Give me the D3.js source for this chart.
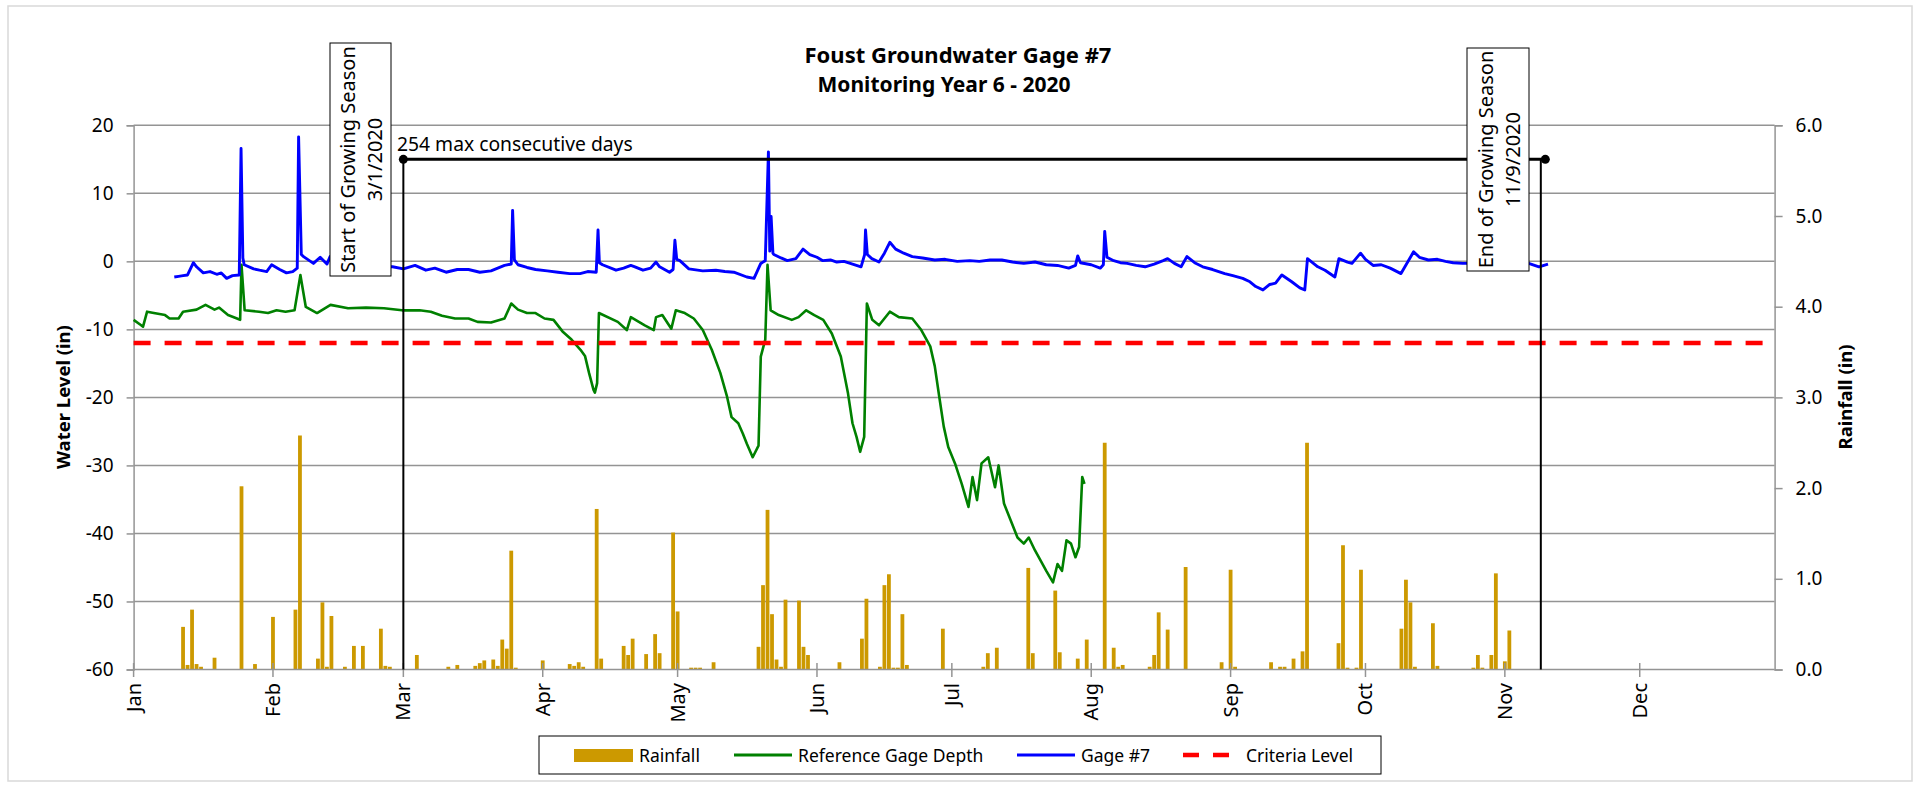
<!DOCTYPE html>
<html><head><meta charset="utf-8">
<script src="https://cdn.jsdelivr.net/npm/d3@7"></script>
<style>
html,body{margin:0;padding:0;background:#fff;}
svg{display:block;}
text{font-family:"Noto Sans",sans-serif;}
</style></head>
<body>
<svg id="chart" width="1917" height="785"></svg>
<script>
// ---------------- DATA (day index: days after 1 Jan 2020) ----------------
const months = ["Jan","Feb","Mar","Apr","May","Jun","Jul","Aug","Sep","Oct","Nov","Dec"];
const leftTicks = [20,10,0,-10,-20,-30,-40,-50,-60];
const rightTicks = [0,1,2,3,4,5,6];
const criteriaLevel = -12;
const seasonStartDay = 60;   // 3/1/2020
const seasonEndDay = 313;    // 11/9/2020
const consecutiveEndDay = 314;
const consecutiveLevel = 15;

const rainDay = [11,12,13,14,15,18,24,27,31,36,37,41,42,43,44,47,49,51,55,56,57,63,70,72,76,77,78,80,81,82,83,84,85,91,97,98,99,100,103,104,109,110,111,114,116,117,120,121,124,125,126,129,139,140,141,142,143,144,145,148,149,150,157,162,163,166,167,168,169,170,171,172,180,189,190,192,199,200,205,206,210,212,216,218,219,220,226,227,228,230,234,242,244,245,253,255,256,258,260,261,268,269,270,272,273,282,283,284,285,289,290,298,299,300,302,303,305,306];
const rainIn = [0.47,0.05,0.66,0.06,0.03,0.13,2.02,0.06,0.58,0.66,2.58,0.12,0.74,0.03,0.59,0.03,0.26,0.26,0.45,0.04,0.03,0.16,0.03,0.05,0.04,0.07,0.10,0.11,0.04,0.33,0.23,1.31,0.02,0.10,0.06,0.04,0.08,0.03,1.77,0.12,0.26,0.16,0.34,0.17,0.39,0.18,1.51,0.64,0.02,0.02,0.02,0.08,0.25,0.93,1.76,0.61,0.11,0.03,0.77,0.76,0.25,0.16,0.08,0.34,0.78,0.03,0.93,1.05,0.02,0.02,0.61,0.05,0.45,0.03,0.18,0.24,1.12,0.18,0.87,0.19,0.12,0.33,2.50,0.24,0.03,0.05,0.03,0.16,0.63,0.44,1.13,0.08,1.10,0.03,0.08,0.03,0.03,0.12,0.20,2.50,0.29,1.37,0.02,0.02,1.10,0.45,0.99,0.74,0.03,0.51,0.04,0.02,0.16,0.02,0.16,1.06,0.09,0.43];

const refDay = [0,1.6,2.1,3,4.5,7,8,10,11,14,16,18,19,21,23,23.7,24,24.7,27.9,29.9,31.8,33.8,35.8,37.1,38.3,40.8,43.8,47.7,51.7,55.7,59.7,63.6,66.1,68.6,71.5,74.5,76.5,79.5,82.5,84,85.5,87.5,89.4,91.4,93.4,95.4,97.4,99.4,100.4,101.3,102.3,102.6,103.1,103.5,107.7,109.7,110.6,113.7,115.7,116.2,117.6,119.6,120.6,122.6,124.6,126.6,128.6,130.5,132,133,134.5,135.5,136.4,137.7,139,139.5,140.5,141,141.7,143.5,146.4,147.9,149.6,151.4,153.4,155.3,157.3,158.9,159.9,160.8,161.6,162.5,163.1,164.3,165.8,168.2,170.2,173.2,175.2,177.2,178.2,179.2,180.2,181.2,182.7,184.2,185.7,186.6,187.6,188.6,190.1,191.6,192.4,193.6,195.1,196.6,198,199.1,200.5,203,204.5,205.5,206.5,207.5,208.5,209.5,210.3,211,211.5];
const refLevel = [-8.6,-9.35,-9.6,-7.4,-7.6,-7.9,-8.4,-8.4,-7.4,-7.1,-6.4,-7.1,-6.8,-7.9,-8.4,-8.6,-0.5,-7.2,-7.4,-7.6,-7.2,-7.4,-7.2,-2.0,-6.7,-7.6,-6.4,-6.9,-6.8,-6.9,-7.2,-7.2,-7.4,-8.0,-8.4,-8.4,-8.9,-9.0,-8.4,-6.2,-7.1,-7.6,-7.6,-8.4,-8.6,-10.3,-11.5,-13.0,-13.9,-16.4,-18.9,-19.3,-17.9,-7.6,-8.9,-10.1,-8.2,-9.4,-10.1,-8.2,-7.9,-9.9,-7.2,-7.6,-8.4,-10.1,-13.0,-16.4,-19.9,-22.9,-23.8,-25.3,-26.8,-28.8,-27.1,-14.0,-11.5,-0.5,-7.2,-7.9,-8.6,-8.2,-7.2,-7.9,-8.6,-10.6,-14.0,-19.4,-23.8,-25.8,-28.0,-25.8,-6.2,-8.6,-9.4,-7.4,-8.2,-8.4,-10.1,-12.5,-15.4,-19.9,-24.3,-27.3,-29.7,-32.7,-36.1,-31.7,-35.1,-29.7,-28.8,-33.2,-30.0,-35.6,-38.1,-40.6,-41.5,-40.6,-42.5,-45.5,-47.2,-44.5,-45.5,-41.0,-41.5,-43.5,-42.0,-31.7,-32.7];

const gageDay = [9.05,10,11,12,13.3,14,15.5,17,18.5,19.5,20.7,22,23.5,23.9,24.3,24.6,26.7,28,29.6,30.7,32.5,34,35.4,36.4,36.7,37.3,37.8,40,41.5,43,43.7,50,57.6,60,62.6,65,67,69.5,72,74.5,77,79.5,82.5,84,84.3,84.7,85.5,87.5,89.4,92,94.4,97,99.3,101,102.9,103.3,103.6,104.3,107.3,109,110.6,111.5,113.3,115,116.2,117,119.2,120,120.4,120.8,121.5,123.5,126.6,129.5,131.5,133.5,136.4,138,139.5,140.5,141.2,141.5,141.8,142.2,142.4,144,145.4,147.3,148.9,150.4,152,153.3,155,156.4,158,159.4,161.8,162.6,162.8,163.2,164.2,165.8,167,168.2,169.5,171.3,173.2,175.5,178.2,180.5,183.2,186,188.1,190.5,193.1,195.5,198,200.5,203,205.5,208,209.5,210,210.6,213,215,215.7,216,216.5,218,219.5,221,223,225,227,229,230,231.5,233,234.3,236,237.8,240,242.7,244.5,246.7,248.3,249.6,251.2,252.7,254,255.4,257.6,259.4,260.5,261.1,263.4,265,267.2,268.1,270,271,272.9,274,275.7,277.5,279.5,281.9,284.7,286,288,290,291.8,293.5,295.6,298,303,308,310.3,312.6,314.6];
const gageLevel = [-2.3,-2.2,-2.1,-2.0,-0.2,-0.8,-1.7,-1.5,-1.9,-1.7,-2.5,-2.1,-2.0,16.6,0.5,-0.5,-1.1,-1.3,-1.5,-0.5,-1.2,-1.7,-1.5,-1.0,18.3,1.0,0.7,-0.3,0.6,-0.4,0.7,-0.8,-0.8,-1.1,-0.6,-1.3,-1.0,-1.6,-1.2,-1.2,-1.6,-1.4,-0.6,-0.4,7.5,0.2,-0.5,-0.9,-1.2,-1.4,-1.6,-1.8,-1.8,-1.5,-1.6,4.6,-0.2,-0.5,-1.3,-1.0,-0.6,-0.8,-1.3,-1.0,-0.1,-0.8,-1.6,-1.2,3.1,0.3,0.1,-1.1,-1.4,-1.3,-1.5,-1.6,-2.3,-2.5,-0.3,0.1,16.1,1.5,6.6,1.2,1.0,0.5,0.1,0.4,1.8,1.0,0.6,0.1,0.2,-0.1,0.0,-0.3,-0.8,1.0,4.6,1.0,0.4,-0.1,1.2,2.8,1.8,1.2,0.7,0.5,0.2,0.3,0.0,0.1,0.0,0.2,0.2,-0.1,-0.3,-0.1,-0.5,-0.6,-1.0,-0.6,0.8,-0.2,-0.5,-1.0,-0.5,4.4,0.6,0.1,-0.2,-0.3,-0.6,-0.8,-0.4,0.1,0.4,-0.3,-0.8,0.7,-0.2,-0.8,-1.2,-1.8,-2.1,-2.5,-3.0,-3.7,-4.2,-3.4,-3.2,-2.0,-3.0,-3.9,-4.2,0.4,-0.8,-1.3,-2.3,0.4,-0.1,-0.3,1.2,0.3,-0.6,-0.5,-1.0,-1.8,1.4,0.6,0.2,0.3,0.0,-0.2,-0.3,-0.3,-0.2,-0.3,-0.3,-0.8,-0.4];

// ---------------- DRAWING ----------------
const svg = d3.select("#chart");
const t0 = Date.UTC(2020,0,1);
const dayDate = d => new Date(t0 + d*864e5);
const x = d3.scaleUtc().domain([dayDate(0), dayDate(365)]).range([133.6, 1774.6]);
const yL = d3.scaleLinear().domain([-60,20]).range([669.5,125.3]);
const yR = d3.scaleLinear().domain([0,6]).range([669.5,125.3]);
const X0 = x.range()[0], X1 = x.range()[1];
const gridColor = "#949494";

// outer chart border
svg.append("rect").attr("x",8).attr("y",6).attr("width",1904).attr("height",775)
  .attr("fill","#fff").attr("stroke","#d9d9d9").attr("stroke-width",1.5);

// title
svg.append("text").attr("x",958).attr("y",63).attr("text-anchor","middle")
  .attr("font-size",22).attr("font-weight","bold").text("Foust Groundwater Gage #7");
svg.append("text").attr("x",944).attr("y",92).attr("text-anchor","middle")
  .attr("font-size",21).attr("font-weight","bold").text("Monitoring Year 6 - 2020");

// gridlines
svg.append("g").selectAll("line").data(leftTicks.filter(v => v > -60)).join("line")
  .attr("x1",X0).attr("x2",X1).attr("y1",d=>yL(d)).attr("y2",d=>yL(d))
  .attr("stroke",gridColor).attr("stroke-width",1.5);

// left axis
const gL = svg.append("g").attr("transform",`translate(${X0},0)`)
  .call(d3.axisLeft(yL).tickValues(leftTicks).tickSize(7).tickPadding(13).tickFormat(d => String(d)));
gL.select(".domain").attr("stroke",gridColor).attr("stroke-width",1.5);
gL.selectAll(".tick line").attr("stroke",gridColor).attr("stroke-width",1.5);
gL.selectAll(".tick text").attr("font-family","'Noto Sans',sans-serif").attr("font-size",19).attr("fill","#000");

// right axis
const gR = svg.append("g").attr("transform",`translate(${X1},0)`)
  .call(d3.axisRight(yR).tickValues(rightTicks).tickSize(8).tickPadding(13).tickFormat(d => d.toFixed(1)));
gR.select(".domain").attr("stroke",gridColor).attr("stroke-width",1.5);
gR.selectAll(".tick line").attr("stroke",gridColor).attr("stroke-width",1.5);
gR.selectAll(".tick text").attr("font-family","'Noto Sans',sans-serif").attr("font-size",19).attr("fill","#000");

// axis titles
svg.append("text").attr("transform","translate(70,397) rotate(-90)").attr("text-anchor","middle")
  .attr("font-size",18.5).attr("font-weight","bold").text("Water Level (in)");
svg.append("text").attr("transform","translate(1852,397) rotate(-90)").attr("text-anchor","middle")
  .attr("font-size",18.5).attr("font-weight","bold").text("Rainfall (in)");

// rainfall bars
const barW = 3.8;
svg.append("g").selectAll("rect").data(rainDay.map((d,i)=>({d, v:rainIn[i]}))).join("rect")
  .attr("x",p=>x(dayDate(p.d))-barW/2).attr("width",barW)
  .attr("y",p=>yR(p.v)).attr("height",p=>yR(0)-yR(p.v))
  .attr("fill","#CC9900");

// bottom axis with crossing ticks
const monthDates = months.map((m,i)=>new Date(Date.UTC(2020,i,1)));
const gB = svg.append("g");
gB.append("line").attr("x1",X0).attr("x2",X1).attr("y1",yL(-60)).attr("y2",yL(-60))
  .attr("stroke",gridColor).attr("stroke-width",1.5);
gB.selectAll("line.tk").data(monthDates).join("line").attr("class","tk")
  .attr("x1",d=>x(d)).attr("x2",d=>x(d)).attr("y1",yL(-60)-6.5).attr("y2",yL(-60)+7.5)
  .attr("stroke",gridColor).attr("stroke-width",1.5);
gB.selectAll("text").data(monthDates).join("text")
  .attr("transform",d=>`translate(${x(d)},683) rotate(-90)`)
  .attr("text-anchor","end").attr("dy","0.35em")
  .attr("font-family","'Liberation Sans',Arial,sans-serif").attr("font-size",20)
  .text((d,i)=>months[i]);

// lines
const line = d3.line().x(p=>x(dayDate(p[0]))).y(p=>yL(p[1]));
svg.append("path").datum(refDay.map((d,i)=>[d,refLevel[i]])).attr("d",line)
  .attr("fill","none").attr("stroke","#008000").attr("stroke-width",2.6).attr("stroke-linejoin","round");
svg.append("path").datum(gageDay.map((d,i)=>[d,gageLevel[i]])).attr("d",line)
  .attr("fill","none").attr("stroke","#0000FF").attr("stroke-width",2.9).attr("stroke-linejoin","round");

// criteria level
svg.append("line").attr("x1",X0).attr("x2",X1).attr("y1",yL(criteriaLevel)).attr("y2",yL(criteriaLevel))
  .attr("stroke","#FF0000").attr("stroke-width",4.5).attr("stroke-dasharray","17,14");

// growing season markers
const xs = x(dayDate(seasonStartDay)), xe = x(dayDate(seasonEndDay)), xc = x(dayDate(consecutiveEndDay));
const yc = yL(consecutiveLevel);
svg.append("line").attr("x1",xs).attr("x2",xs).attr("y1",yc).attr("y2",yL(-60)).attr("stroke","#000").attr("stroke-width",2);
svg.append("line").attr("x1",xe).attr("x2",xe).attr("y1",yc).attr("y2",yL(-60)).attr("stroke","#000").attr("stroke-width",2);
svg.append("line").attr("x1",xs).attr("x2",xc).attr("y1",yc).attr("y2",yc).attr("stroke","#000").attr("stroke-width",3);
svg.append("circle").attr("cx",xs).attr("cy",yc).attr("r",4.5).attr("fill","#000");
svg.append("circle").attr("cx",xc).attr("cy",yc).attr("r",4.5).attr("fill","#000");
svg.append("text").attr("x",397).attr("y",151).attr("font-size",19.3).text("254 max consecutive days");

// annotation boxes
function noteBox(x0, y0, w, h, l1, l2, c1, c2){
  svg.append("rect").attr("x",x0).attr("y",y0).attr("width",w).attr("height",h)
    .attr("fill","#fff").attr("stroke","#000").attr("stroke-width",1);
  const cy = y0 + h/2;
  svg.append("text").attr("transform",`translate(${c1},${cy}) rotate(-90)`).attr("text-anchor","middle")
    .attr("dy","0.35em").attr("font-size",20).text(l1);
  svg.append("text").attr("transform",`translate(${c2},${cy}) rotate(-90)`).attr("text-anchor","middle")
    .attr("dy","0.35em").attr("font-size",20).text(l2);
}
noteBox(330, 43, 61, 233, "Start of Growing Season", "3/1/2020", 348, 375);
noteBox(1467, 48, 62, 223, "End of Growing Season", "11/9/2020", 1486, 1513);

// legend
const lg = svg.append("g");
lg.append("rect").attr("x",539).attr("y",736).attr("width",842).attr("height",38)
  .attr("fill","#fff").attr("stroke","#000").attr("stroke-width",1);
lg.append("rect").attr("x",574).attr("y",749).attr("width",59).attr("height",13).attr("fill","#CC9900");
lg.append("line").attr("x1",734).attr("x2",792).attr("y1",755).attr("y2",755).attr("stroke","#008000").attr("stroke-width",3);
lg.append("line").attr("x1",1017).attr("x2",1075).attr("y1",755).attr("y2",755).attr("stroke","#0000FF").attr("stroke-width",3);
lg.append("line").attr("x1",1183).attr("x2",1229).attr("y1",755).attr("y2",755).attr("stroke","#FF0000").attr("stroke-width",4.5).attr("stroke-dasharray","16,14");
const legendText = [["Rainfall",639],["Reference Gage Depth",798],["Gage #7",1081],["Criteria Level",1246]];
lg.selectAll("text").data(legendText).join("text").attr("x",d=>d[1]).attr("y",761.5)
  .attr("font-size",17.5).text(d=>d[0]);
</script>
</body></html>
